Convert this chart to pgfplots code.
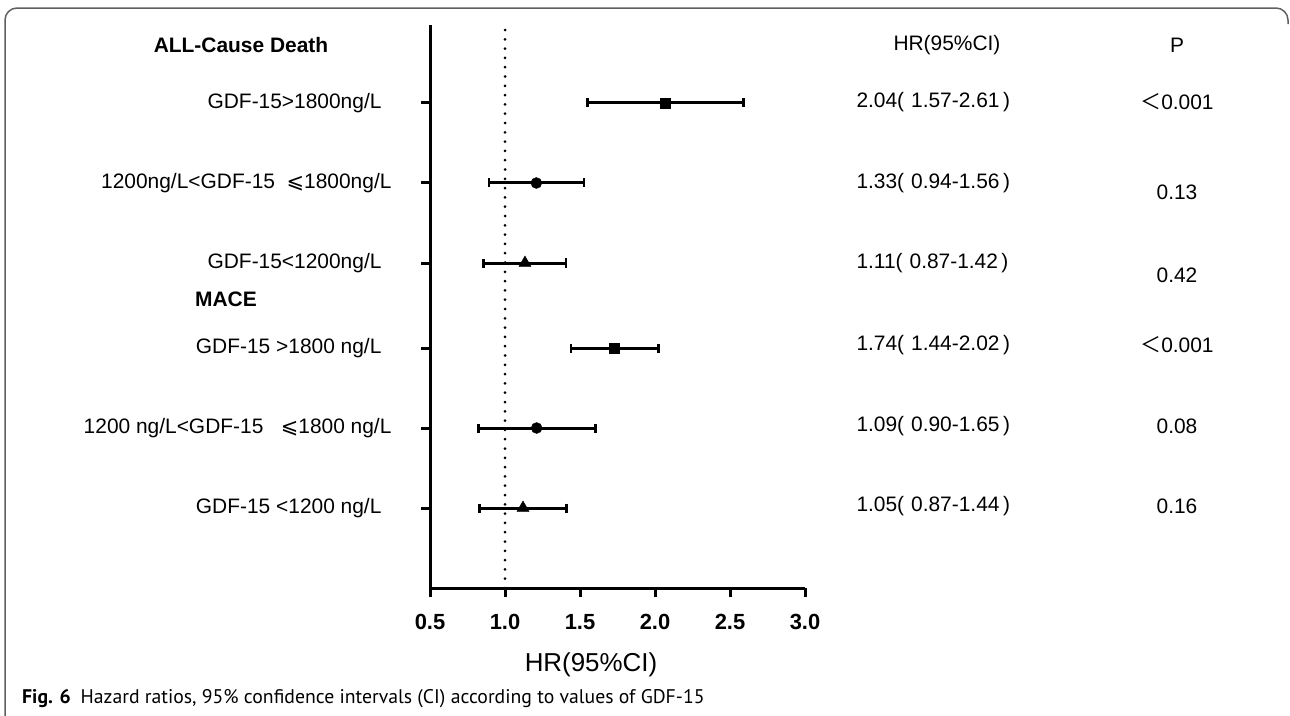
\documentclass[border=0pt]{standalone}
\usepackage{pgfplots}
\pgfplotsset{compat=1.18}
\usepackage{fontspec}
\setmainfont{Liberation Sans}
\newfontfamily\cjk{Noto Sans CJK SC}
\newfontfamily\dejavu{DejaVu Sans}
\newfontfamily\capfont{PT Sans}
\begin{document}
\begin{tikzpicture}
\path[use as bounding box] (0,0) rectangle (1290bp,-716bp);
\begin{axis}[
  at={(430bp,-588bp)}, anchor=south west,
  scale only axis, width=375bp, height=563bp,
  xmin=0.5, xmax=3.0, ymin=0, ymax=7.0375,
  axis x line*=bottom, axis y line*=left,
  axis line style={line width=3bp, black},
  xtick={0.5,1,1.5,2,2.5,3},
  xticklabels={0.5,1.0,1.5,2.0,2.5,3.0},
  xticklabel style={font=\fontsize{22}{22}\selectfont\bfseries, yshift=-14bp},
  ytick={1,2,3,4.0625,5.0625,6.0625},
  yticklabels={},
  tick align=outside, major tick length=9bp,
  tick style={line width=3bp, black},
  clip=false,
]
\addplot[black, line width=3bp, line cap=round, dash pattern=on 0pt off 9.3bp] coordinates {(1,0) (1,7.0)};
% squares
\addplot[black, only marks, mark=square*, mark size=5bp,
  error bars/.cd, x dir=both, x explicit, error mark=|,
  error bar style={line width=3bp, black},
  error mark options={mark size=4.5bp, line width=2.5bp, black}]
  coordinates {
  (2.071,6.0625) += (0.518,0) -= (0.522,0)
  (1.731,3.0) += (0.291,0) -= (0.291,0)
  };
% circles
\addplot[black, only marks, mark=*, mark size=5.5bp,
  error bars/.cd, x dir=both, x explicit, error mark=|,
  error bar style={line width=3bp, black},
  error mark options={mark size=4.5bp, line width=2.5bp, black}]
  coordinates {
  (1.209,5.0625) += (0.318,0) -= (0.316,0)
  (1.211,2.0) += (0.393,0) -= (0.387,0)
  };
% triangles
\addplot[black, only marks, mark=triangle*, mark size=7bp,
  error bars/.cd, x dir=both, x explicit, error mark=|,
  error bar style={line width=3bp, black},
  error mark options={mark size=4.5bp, line width=2.5bp, black}]
  coordinates {
  (1.133,4.0625) += (0.274,0) -= (0.277,0)
  (1.120,1.0) += (0.291,0) -= (0.291,0)
  };
\end{axis}
\begin{scope}[x=1bp,y=-1bp]
% frame
\draw[gray!75!black, line width=1.5bp, rounded corners=12bp] (5,716) -- (5,8) -- (1288,8) -- (1288,24);
\def\lf{\fontsize{21}{21}\selectfont}
\node[font=\lf\bfseries] at (241,45) {ALL-Cause Death};
\node[font=\lf\bfseries] at (226,299) {MACE};
\node[font=\lf, anchor=east] at (385,103) {GDF-15>1800ng/L};
\node[font=\lf, anchor=east] at (395,183) {1200ng/L<GDF-15\ \ {\dejavu ⩽}1800ng/L};
\node[font=\lf, anchor=east] at (385,263) {GDF-15<1200ng/L};
\node[font=\lf, anchor=east] at (385,348) {GDF-15 >1800 ng/L};
\node[font=\lf, anchor=east] at (395,428) {1200 ng/L<GDF-15\ \ \ {\dejavu ⩽}1800 ng/L};
\node[font=\lf, anchor=east] at (385,508) {GDF-15 <1200 ng/L};
% HR column
\node[font=\lf] at (947,45) {HR(95\%CI)};
\node[font=\lf] at (1177,45) {P};
\node[font=\lf, anchor=west] at (853,102) {2.04(\,\,1.57-2.61\,)};
\node[font=\lf, anchor=west] at (853,183) {1.33(\,\,0.94-1.56\,)};
\node[font=\lf, anchor=west] at (853,263) {1.11(\,\,0.87-1.42\,)};
\node[font=\lf, anchor=west] at (853,345) {1.74(\,\,1.44-2.02\,)};
\node[font=\lf, anchor=west] at (853,426) {1.09(\,\,0.90-1.65\,)};
\node[font=\lf, anchor=west] at (853,506) {1.05(\,\,0.87-1.44\,)};
% P column
\node[font=\lf] at (1177,102) {{\cjk ＜}0.001};
\node[font=\lf] at (1177,192) {0.13};
\node[font=\lf] at (1177,275) {0.42};
\node[font=\lf] at (1177,345) {{\cjk ＜}0.001};
\node[font=\lf] at (1177,426) {0.08};
\node[font=\lf] at (1177,506) {0.16};
% axis title
\node[font=\fontsize{26}{26}\selectfont] at (591,665) {HR(95\%CI)};
% caption
\node[font=\capfont\fontsize{19.8}{19.8}\selectfont, anchor=base west, inner sep=0] at (22,703) {\textbf{Fig. 6}\enspace Hazard ratios, 95\% confidence intervals (CI) according to values of GDF-15};
\end{scope}
\end{tikzpicture}
\end{document}
